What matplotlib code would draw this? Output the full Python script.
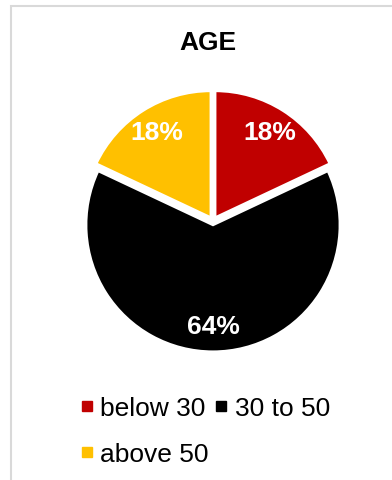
import matplotlib.pyplot as plt
from matplotlib.lines import Line2D
from matplotlib.patches import Rectangle

plt.rcParams['font.family'] = ['Liberation Sans', 'DejaVu Sans']

# data
categories = ['below 30', '30 to 50', 'above 50']
shares = [18, 64, 18]
colors = ['#C00000', '#000000', '#FFC000']

W, H = 392, 481
fig = plt.figure(figsize=(W / 100, H / 100), dpi=100)

# light grey chart border (only top and left visible)
fig.patches.append(Rectangle((11 / W, -0.1), 1.2, (H - 7) / H + 0.1,
                             transform=fig.transFigure, fill=False,
                             edgecolor='#D9D9D9', linewidth=1.5))

fig.text(208 / W, 1 - 43 / H, 'AGE', ha='center', va='center',
         fontsize=19, fontweight='bold')

# pie axes: 1 unit = 127 px, centred at (213, 222)
r_px = 127
half = 1.3 * r_px
cx, cy = 213, 222
ax = fig.add_axes([(cx - half) / W, (H - cy - half) / H, 2 * half / W, 2 * half / H])
wedges, texts, autotexts = ax.pie(
    shares, colors=colors, startangle=90, counterclock=False,
    explode=[0.03, 0.03, 0.03], autopct='%d%%', pctdistance=0.8,
    wedgeprops=dict(edgecolor='white', linewidth=2),
    textprops=dict(color='white', fontsize=19, fontweight='bold'))
ax.set_xlim(-1.3, 1.3)
ax.set_ylim(-1.3, 1.3)
ax.set_aspect('equal')
ax.axis('off')

# legend: row-major order -> reorder for matplotlib's column filling
handles = [Line2D([], [], marker='s', linestyle='', color=c, markersize=7)
           for c in colors]
order = [0, 2, 1]
fig.legend([handles[i] for i in order], [categories[i] for i in order],
           loc='upper left', bbox_to_anchor=(80 / W, 1 - 397 / H),
           ncol=2, frameon=False, fontsize=19, borderpad=0,
           borderaxespad=0, handlelength=0.5, handletextpad=0.25,
           columnspacing=0.25, labelspacing=0.85)

fig.savefig('out.png', dpi=100)
